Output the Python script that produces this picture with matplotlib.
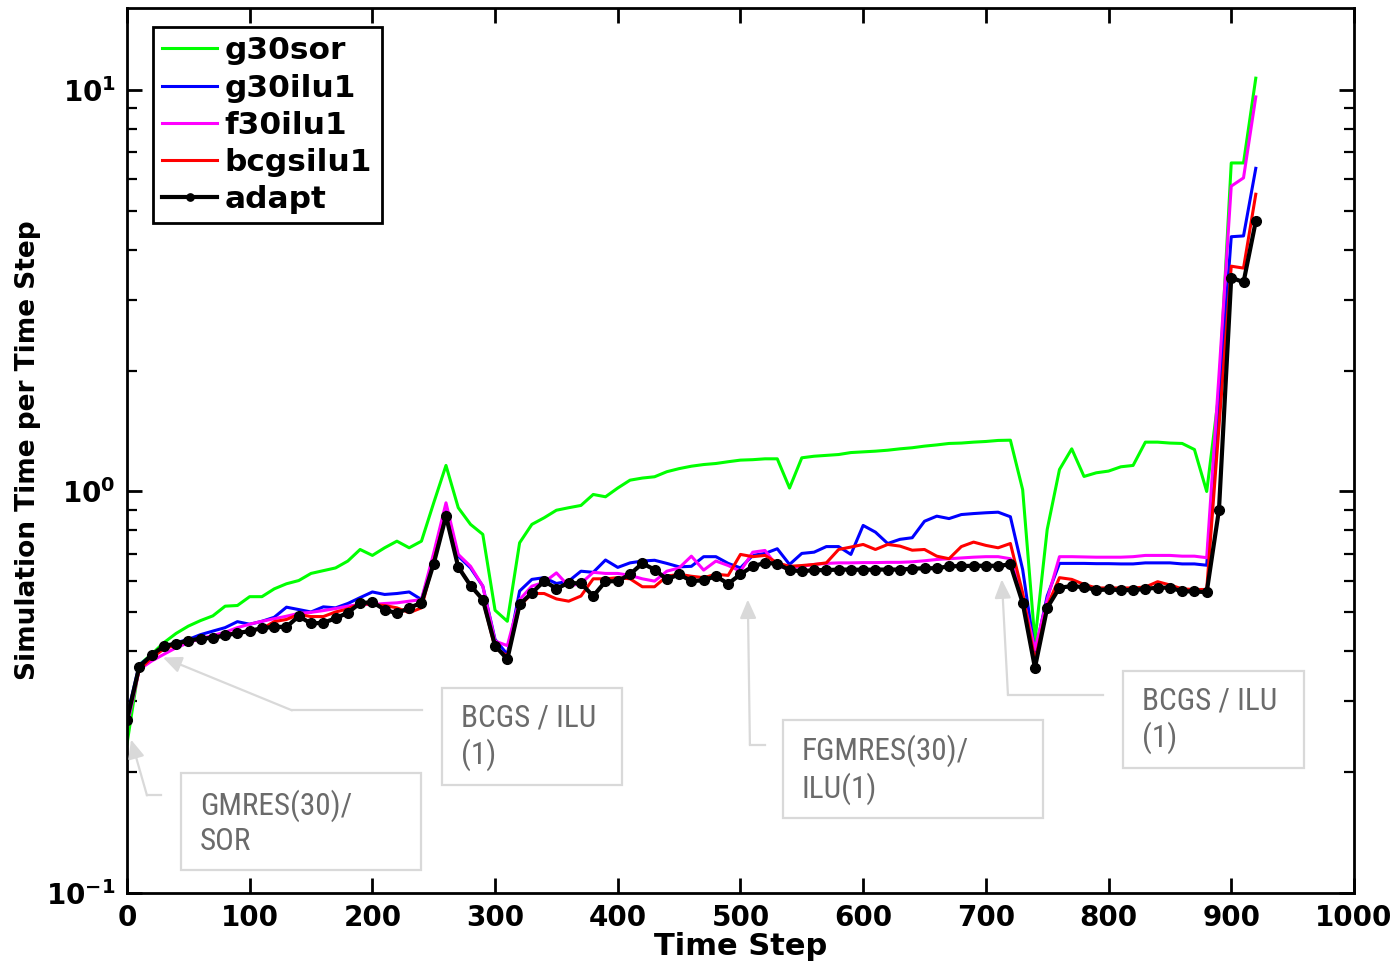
import numpy as np
import matplotlib
matplotlib.use('Agg')
import matplotlib.pyplot as plt
from matplotlib import font_manager
from matplotlib.patches import Rectangle
from matplotlib.ticker import NullFormatter

plt.rcParams['font.family'] = 'DejaVu Sans'
plt.rcParams['font.weight'] = 'bold'
plt.rcParams['mathtext.fontset'] = 'dejavusans'

# time steps (every 10th step)
steps = np.arange(0, 930, 10)

g30sor = [0.235, 0.37, 0.393, 0.42, 0.443, 0.462, 0.477, 0.49, 0.518, 0.52,
          0.547, 0.547, 0.572, 0.589, 0.600, 0.625, 0.635, 0.645, 0.671, 0.717,
          0.693, 0.724, 0.752, 0.724, 0.752, 0.937, 1.161, 0.911, 0.828, 0.782,
          0.506, 0.475, 0.745, 0.828, 0.860, 0.898, 0.911, 0.923, 0.983, 0.970,
          1.02, 1.067, 1.08, 1.088, 1.12, 1.14, 1.156, 1.167, 1.174, 1.186,
          1.197, 1.20, 1.206, 1.206, 1.02, 1.213, 1.224, 1.23, 1.236, 1.25,
          1.255, 1.26, 1.267, 1.277, 1.285, 1.297, 1.306, 1.317, 1.32, 1.327,
          1.332, 1.34, 1.342, 1.01, 0.424, 0.804, 1.134, 1.277, 1.09, 1.113,
          1.124, 1.152, 1.161, 1.327, 1.327, 1.32, 1.317, 1.272, 1.00, 1.765,
          6.58, 6.58, 10.7]

g30ilu1 = [0.275, 0.37, 0.39, 0.41, 0.42, 0.428, 0.44, 0.449, 0.458, 0.474,
           0.467, 0.475, 0.486, 0.515, 0.508, 0.501, 0.516, 0.513, 0.526, 0.544,
           0.562, 0.554, 0.557, 0.562, 0.538, 0.677, 0.893, 0.690, 0.645, 0.581,
           0.428, 0.393, 0.565, 0.604, 0.610, 0.590, 0.598, 0.633, 0.629, 0.675,
           0.647, 0.664, 0.671, 0.674, 0.662, 0.649, 0.651, 0.688, 0.688, 0.662,
           0.645, 0.693, 0.701, 0.720, 0.658, 0.701, 0.706, 0.729, 0.729, 0.697,
           0.823, 0.792, 0.742, 0.760, 0.767, 0.843, 0.868, 0.856, 0.876, 0.881,
           0.885, 0.888, 0.865, 0.639, 0.396, 0.549, 0.662, 0.662, 0.662, 0.661,
           0.661, 0.660, 0.660, 0.664, 0.664, 0.664, 0.660, 0.660, 0.655, 1.65,
           4.31, 4.33, 6.38]

f30ilu1 = [0.26, 0.36, 0.378, 0.393, 0.408, 0.42, 0.43, 0.438, 0.446, 0.458,
           0.467, 0.475, 0.482, 0.489, 0.497, 0.500, 0.505, 0.511, 0.518, 0.523,
           0.523, 0.526, 0.528, 0.533, 0.538, 0.703, 0.937, 0.697, 0.651, 0.581,
           0.424, 0.413, 0.538, 0.581, 0.594, 0.627, 0.581, 0.590, 0.629, 0.625,
           0.625, 0.618, 0.606, 0.598, 0.633, 0.645, 0.690, 0.637, 0.671, 0.654,
           0.633, 0.706, 0.713, 0.651, 0.645, 0.651, 0.658, 0.662, 0.664, 0.664,
           0.665, 0.665, 0.666, 0.666, 0.668, 0.672, 0.677, 0.680, 0.683, 0.686,
           0.688, 0.688, 0.680, 0.549, 0.404, 0.538, 0.688, 0.688, 0.687, 0.686,
           0.686, 0.686, 0.688, 0.693, 0.693, 0.693, 0.690, 0.690, 0.684, 1.95,
           5.76, 6.04, 9.61]

bcgsilu1 = [0.27, 0.36, 0.385, 0.405, 0.415, 0.425, 0.43, 0.433, 0.44, 0.445,
            0.45, 0.455, 0.474, 0.48, 0.494, 0.488, 0.488, 0.501, 0.51, 0.526,
            0.523, 0.52, 0.513, 0.499, 0.513, 0.671, 0.876, 0.651, 0.581, 0.538,
            0.408, 0.389, 0.518, 0.557, 0.557, 0.54, 0.533, 0.549, 0.606, 0.606,
            0.61, 0.606, 0.579, 0.579, 0.615, 0.622, 0.615, 0.61, 0.622, 0.618,
            0.697, 0.688, 0.693, 0.664, 0.651, 0.654, 0.658, 0.664, 0.717, 0.727,
            0.738, 0.717, 0.738, 0.731, 0.714, 0.717, 0.69, 0.68, 0.729, 0.748,
            0.734, 0.724, 0.742, 0.559, 0.378, 0.518, 0.61, 0.604, 0.587, 0.575,
            0.575, 0.575, 0.575, 0.578, 0.596, 0.585, 0.572, 0.570, 0.570, 1.45,
            3.64, 3.60, 5.50]

adapt = [0.27, 0.366, 0.391, 0.412, 0.418, 0.425, 0.430, 0.432, 0.438, 0.444,
         0.449, 0.457, 0.460, 0.460, 0.489, 0.469, 0.471, 0.483, 0.499, 0.527,
         0.530, 0.508, 0.497, 0.513, 0.528, 0.661, 0.868, 0.648, 0.583, 0.538,
         0.413, 0.382, 0.523, 0.559, 0.598, 0.573, 0.592, 0.590, 0.549, 0.597,
         0.598, 0.622, 0.662, 0.639, 0.604, 0.622, 0.598, 0.601, 0.615, 0.589,
         0.622, 0.651, 0.664, 0.661, 0.637, 0.633, 0.637, 0.637, 0.639, 0.639,
         0.638, 0.639, 0.639, 0.639, 0.642, 0.644, 0.644, 0.651, 0.652, 0.653,
         0.653, 0.653, 0.658, 0.528, 0.364, 0.513, 0.576, 0.581, 0.578, 0.568,
         0.570, 0.568, 0.568, 0.572, 0.576, 0.576, 0.564, 0.564, 0.561, 0.90,
         3.41, 3.32, 4.71]

series = [('g30sor', g30sor, '#00ff00'),
          ('g30ilu1', g30ilu1, '#0000ff'),
          ('f30ilu1', f30ilu1, '#ff00ff'),
          ('bcgsilu1', bcgsilu1, '#ff0000')]

fig = plt.figure(figsize=(14, 9.66), dpi=100)
ax = fig.add_axes([0.0907, 0.0756, 0.8764, 0.9161])

for name, vals, col in series:
    ax.plot(steps, vals, color=col, lw=2.2, label=name)
ax.plot(steps, adapt, color='black', lw=3.0, marker='o', markersize=7, label='adapt')

ax.set_yscale('log')
ax.set_xlim(0, 1000)
ax.set_ylim(0.1, 16)
ax.set_xticks(np.arange(0, 1001, 100))
ax.set_yticks([0.1, 1, 10])
ax.set_yticklabels([r'$\mathbf{10^{-1}}$', r'$\mathbf{10^{0}}$', r'$\mathbf{10^{1}}$'])
ax.yaxis.set_minor_formatter(NullFormatter())
ax.tick_params(which='both', direction='in', top=True, right=True, labelsize=20)
ax.tick_params(which='major', length=11, width=2, pad=8)
ax.tick_params(which='minor', length=7, width=1.6)
for s in ax.spines.values():
    s.set_linewidth(2)

ax.set_xlabel('Time Step', fontsize=22, fontweight='bold', labelpad=0)
ax.set_ylabel('Simulation Time per Time Step', fontsize=19, fontweight='bold', labelpad=4)

leg = ax.legend(loc='upper left', bbox_to_anchor=(0.0212, 0.9785), borderaxespad=0,
                prop={'size': 22.5, 'weight': 'bold'}, handlelength=1.75, handletextpad=0.25,
                labelspacing=0.26, borderpad=0.3, fancybox=False, framealpha=1, markerscale=0.75)
leg.get_frame().set_edgecolor('black')
leg.get_frame().set_linewidth(2)

# annotation callouts
names = {f.name for f in font_manager.fontManager.ttflist}
nfont, nsize = 'Liberation Sans', 20
for cand in ['Liberation Sans Narrow', 'Roboto Condensed', 'Open Sans Condensed']:
    if cand in names:
        nfont, nsize = cand, 22.5
        break
grey = '#d9d9d9'
tgrey = '#6b6b6b'


def px2ax(px, py):
    return ((px - 127) / 1227, (893 - py) / 885)


boxes = [((181, 773, 421, 870), 'GMRES(30)/\nSOR'),
         ((442, 688, 622, 785), 'BCGS / ILU\n(1)'),
         ((783, 720, 1043, 818), 'FGMRES(30)/\nILU(1)'),
         ((1123, 671, 1304, 768), 'BCGS / ILU\n(1)')]
for (x0, y0, x1, y1), txt in boxes:
    ax0, ay0 = px2ax(x0, y1)
    ax1, ay1 = px2ax(x1, y0)
    ax.add_patch(Rectangle((ax0, ay0), ax1 - ax0, ay1 - ay0, transform=ax.transAxes,
                           fill=False, edgecolor=grey, lw=1.6, clip_on=False, zorder=5))
    tx, ty = px2ax(x0 + 19, (y0 + y1) / 2 + 1)
    ax.text(tx, ty, txt, transform=ax.transAxes, ha='left', va='center', color=tgrey,
            fontsize=nsize, family=nfont, fontweight='normal', linespacing=1.22, zorder=6)

# (start, corner, head) in data coordinates
arrows = [((27.7, 0.175), (16.3, 0.175), (3.3, 0.241)),
          ((240.4, 0.285), (134.5, 0.285), (29.3, 0.386)),
          ((520, 0.234), (507.7, 0.234), (506, 0.538)),
          ((795.4, 0.312), (718, 0.312), (713, 0.604))]
for start, corner, head in arrows:
    ax.plot([start[0], corner[0]], [start[1], corner[1]], color=grey, lw=1.6, zorder=4)
    ax.annotate('', xy=head, xytext=corner,
                arrowprops=dict(arrowstyle='-|>,head_length=0.75,head_width=0.33',
                                color=grey, lw=1.6, shrinkA=0, shrinkB=0,
                                mutation_scale=15), zorder=4)

fig.savefig('out.png', dpi=100)
